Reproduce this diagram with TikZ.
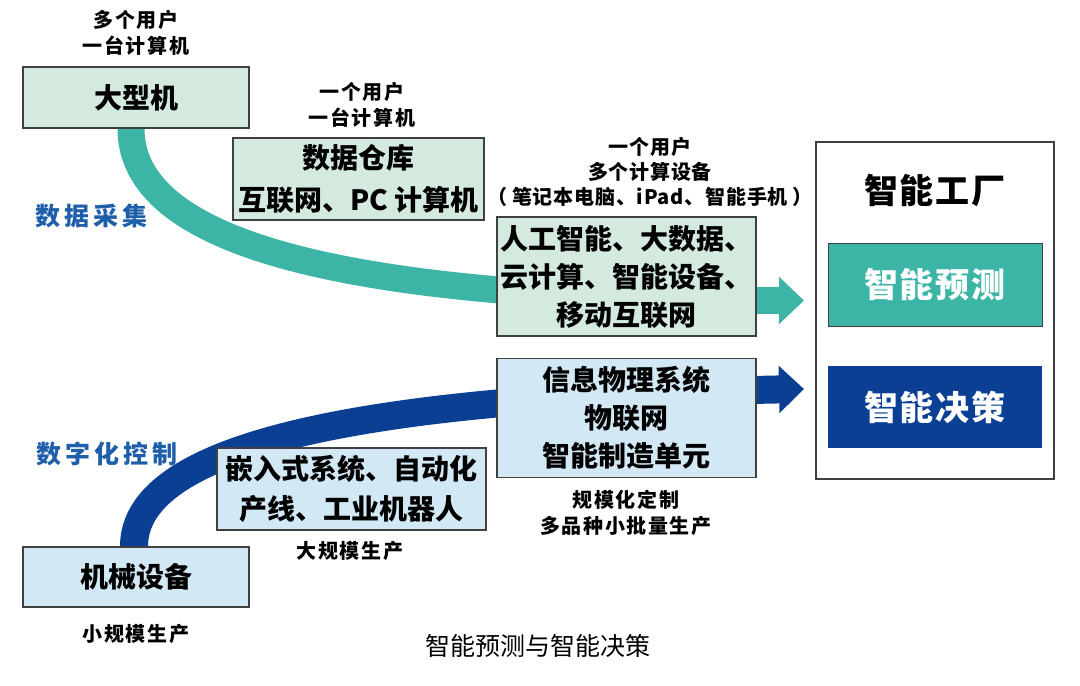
\documentclass[tikz,border=0pt]{standalone}
\usepackage{fontspec}
\setmainfont{Noto Sans CJK SC}
\usetikzlibrary{arrows.meta}
\definecolor{gfill}{HTML}{D5EADF}
\definecolor{bfill}{HTML}{D2E8F4}
\definecolor{tealc}{HTML}{3DB5A6}
\definecolor{navyc}{HTML}{0B3F93}
\definecolor{bluetxt}{HTML}{1F5FAA}
\definecolor{boxline}{HTML}{404040}
\newcommand\fsz[2]{\fontsize{#1}{#2}\selectfont}
\begin{document}
\begin{tikzpicture}[x=1pt,y=-1pt,
  box/.style={draw=boxline, line width=1.2pt, inner sep=0pt, align=center, font=\bfseries\fsz{28}{38}},
  gbox/.style={box, fill=gfill},
  bbox/.style={box, fill=bfill},
  lbl/.style={align=center, inner sep=0pt, font=\bfseries\fsz{20}{25.5}\addfontfeature{LetterSpace=8}},
  head/.style={align=center, inner sep=0pt, text=bluetxt, font=\bfseries\fsz{25}{28}},
  band/.style={line width=#1, -{Triangle[length=25pt 0 0,width=46pt 0 0]}},
]
\useasboundingbox (0,0) rectangle (1080,686);

% node positions
\coordinate (tA) at (804,300.5);
\coordinate (tB) at (804,389);
\node[gbox, minimum width=226pt, minimum height=61pt] (mainframe) at (136,97.5) {大型机};
\node[bbox, minimum width=226pt, minimum height=60pt] (mech) at (136,577) {机械设备};

% bands (drawn behind boxes)
\draw[band=27pt, tealc] ([xshift=-5pt]mainframe.south) .. controls (131,240) and (330,300) .. (tA);
\draw[band=28pt, navyc] ([xshift=-2pt]mech.north) .. controls (134,460) and (300,398) .. (tB);

% redraw end boxes on top
\node[gbox, minimum width=226pt, minimum height=61pt] at (mainframe) {大型机};
\node[bbox, minimum width=226pt, minimum height=60pt] at (mech) {机械设备};

\node[gbox, minimum width=251pt, minimum height=82pt, font=\bfseries\fsz{28}{42}] (dw) at (358.5,179) {数据仓库\\互联网、PC 计算机};
\node[gbox, minimum width=259pt, minimum height=119pt] (ai) at (626.5,276.5) {人工智能、大数据、\\云计算、智能设备、\\移动互联网};
\node[bbox, minimum width=259pt, minimum height=119pt] (cps) at (626.5,418) {信息物理系统\\物联网\\智能制造单元};
\node[bbox, minimum width=269pt, minimum height=82pt, font=\bfseries\fsz{28}{40}] (emb) at (351.5,489) {嵌入式系统、自动化\\产线、工业机器人};

% factory
\node[draw=boxline, line width=1.2pt, minimum width=238pt, minimum height=337pt, inner sep=0pt] (factory) at (935,310.5) {};
\node[inner sep=0pt, font=\bfseries\fsz{34}{40}] (ftitle) at (935,190) {智\hspace{2pt}能\hspace{2pt}工\hspace{2pt}厂};
\node[draw=boxline, line width=1pt, fill=tealc, text=white, minimum width=214pt, minimum height=83pt, inner sep=0pt, font=\bfseries\fsz{34}{40}] (pred) at (935,284.5) {智\hspace{2pt}能\hspace{2pt}预\hspace{2pt}测};
\node[fill=navyc, text=white, minimum width=214pt, minimum height=82pt, inner sep=0pt, font=\bfseries\fsz{34}{40}] (dec) at (935,407) {智\hspace{2pt}能\hspace{2pt}决\hspace{2pt}策};

% labels
\node[lbl] (l1) at (136,33) {多个用户\\一台计算机};
\node[lbl] (l2) at (362,105) {一个用户\\一台计算机};
\node[lbl, font=\bfseries\fsz{20}{25}\addfontfeature{LetterSpace=4}] (l3) at (650,172) {一个用户\\多个计算设备\\（\hspace{5pt}笔记本电脑、iPad、智能手机\hspace{5pt}）};
\node[lbl] (l4) at (626,513) {规模化定制\\多品种小批量生产};
\node[lbl] (l5) at (350,551) {大规模生产};
\node[lbl] (l6) at (136,634) {小规模生产};
\node[head] (h1) at (91,216) {数\hspace{4pt}据\hspace{4pt}采\hspace{4pt}集};
\node[head] (h2) at (107,454) {数\hspace{4pt}字\hspace{4pt}化\hspace{4pt}控\hspace{4pt}制};
\node[inner sep=0pt, font=\fsz{25}{30}] (cap) at (538,646) {智能预测与智能决策};
\end{tikzpicture}
\end{document}
